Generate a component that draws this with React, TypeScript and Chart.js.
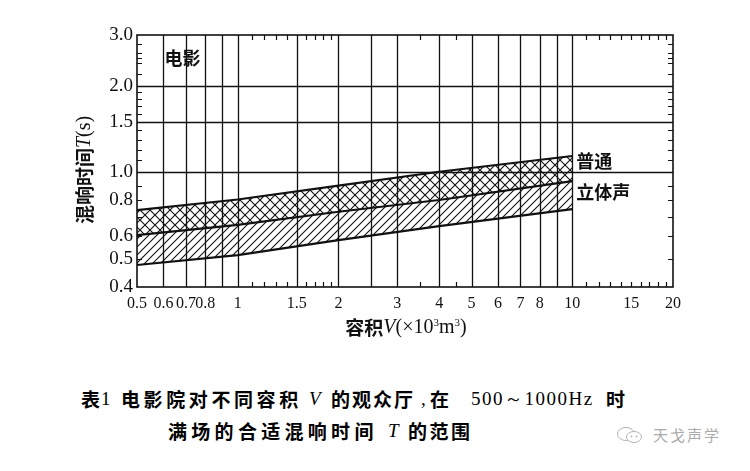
import React, { useEffect, useRef } from "react";
import { Chart, registerables } from "chart.js";

Chart.register(...registerables);

// ---- data ----
const volumes = [0.5, 1, 2, 4, 10];
const upperT = [0.74, 0.805, 0.9, 1.005, 1.14];
const middleT = [0.606, 0.657, 0.73, 0.802, 0.933];
const lowerT = [0.477, 0.516, 0.582, 0.651, 0.746];

const xTickValues = [0.5, 0.6, 0.7, 0.8, 1, 1.5, 2, 3, 4, 5, 6, 7, 8, 10, 15, 20];
const xTickLabels = ["0.5", "0.6", "0.7", "0.8", "1", "1.5", "2", "3", "4", "5", "6", "7", "8", "10", "15", "20"];
const yTickValues = [0.4, 0.5, 0.6, 0.8, 1.0, 1.5, 2.0, 3.0];
const yTickLabels = ["0.4", "0.5", "0.6", "0.8", "1.0", "1.5", "2.0", "3.0"];

const xGridValues = [0.6, 0.7, 0.8, 0.9, 1, 1.5, 2, 2.5, 3, 4, 5, 6, 7, 8, 9, 10];
const yGridValues = [1.0, 1.5, 2.0];
const xMinorTicks = [1.1, 1.2, 1.3, 1.4, 1.6, 1.7, 1.8, 1.9, 3.5, 4.5, 11, 12, 13, 14, 15, 16, 17, 18, 19];
const yMinorTicks = [0.5, 0.6, 0.7, 0.8, 0.9, 1.1, 1.2, 1.3, 1.4, 1.6, 1.7, 1.8, 1.9, 2.2, 2.4, 2.5, 2.6, 2.8];

const seriesLabels = ["普通", "立体声"];

function makeCross(): CanvasPattern | string {
  const c = document.createElement("canvas");
  c.width = 10;
  c.height = 10;
  const g = c.getContext("2d");
  if (!g) return "rgba(0,0,0,0.2)";
  g.strokeStyle = "#111";
  g.lineWidth = 1.1;
  g.beginPath();
  g.moveTo(-1, -1);
  g.lineTo(11, 11);
  g.moveTo(11, -1);
  g.lineTo(-1, 11);
  g.stroke();
  return g.createPattern(c, "repeat") || "rgba(0,0,0,0.2)";
}

function makeDiag(): CanvasPattern | string {
  const c = document.createElement("canvas");
  c.width = 8;
  c.height = 8;
  const g = c.getContext("2d");
  if (!g) return "rgba(0,0,0,0.2)";
  g.strokeStyle = "#111";
  g.lineWidth = 1.1;
  g.beginPath();
  g.moveTo(-1, 9);
  g.lineTo(9, -1);
  g.moveTo(-1, 1);
  g.lineTo(1, -1);
  g.moveTo(7, 9);
  g.lineTo(9, 7);
  g.stroke();
  return g.createPattern(c, "repeat") || "rgba(0,0,0,0.2)";
}

type Seg = { t: string; f: string; dy?: number };

function drawSegs(ctx: CanvasRenderingContext2D, segs: Seg[], cx: number, cy: number, rot: number) {
  ctx.save();
  ctx.translate(cx, cy);
  ctx.rotate(rot);
  ctx.textBaseline = "middle";
  ctx.textAlign = "left";
  let total = 0;
  for (const s of segs) {
    ctx.font = s.f;
    total += ctx.measureText(s.t).width;
  }
  let x = -total / 2;
  for (const s of segs) {
    ctx.font = s.f;
    ctx.fillText(s.t, x, s.dy || 0);
    x += ctx.measureText(s.t).width;
  }
  ctx.restore();
}

const framePlugin = {
  id: "frame",
  beforeDatasetsDraw(chart: any) {
    const { ctx, chartArea, scales } = chart;
    const { left, right, top, bottom } = chartArea;
    const xs = scales.x;
    const ys = scales.y;
    ctx.save();
    ctx.strokeStyle = "#111";
    ctx.lineWidth = 1.3;
    ctx.beginPath();
    for (const v of xGridValues) {
      const px = Math.round(xs.getPixelForValue(v)) + 0.5;
      ctx.moveTo(px, top);
      ctx.lineTo(px, bottom);
    }
    for (const v of yGridValues) {
      const py = Math.round(ys.getPixelForValue(v)) + 0.5;
      ctx.moveTo(left, py);
      ctx.lineTo(right, py);
    }
    ctx.stroke();
    ctx.restore();
  },
  afterDatasetsDraw(chart: any) {
    const { ctx, chartArea, scales } = chart;
    const { left, right, top, bottom } = chartArea;
    const xs = scales.x;
    const ys = scales.y;
    ctx.save();
    ctx.strokeStyle = "#111";
    ctx.lineWidth = 1.6;
    ctx.strokeRect(left, top, right - left, bottom - top);
    ctx.lineWidth = 1.2;
    ctx.beginPath();
    for (const v of yMinorTicks) {
      const py = Math.round(ys.getPixelForValue(v)) + 0.5;
      ctx.moveTo(left, py);
      ctx.lineTo(left + 5, py);
      ctx.moveTo(right, py);
      ctx.lineTo(right - 5, py);
    }
    for (const v of xMinorTicks) {
      const px = Math.round(xs.getPixelForValue(v)) + 0.5;
      ctx.moveTo(px, top);
      ctx.lineTo(px, top + 5);
      ctx.moveTo(px, bottom);
      ctx.lineTo(px, bottom - 5);
    }
    ctx.stroke();

    ctx.fillStyle = "#111";
    const cjk = 'bold 18px "Noto Sans CJK SC"';
    ctx.textBaseline = "middle";
    ctx.textAlign = "left";
    ctx.font = cjk;
    ctx.fillText("电影", xs.getPixelForValue(0.6) + 1, ys.getPixelForValue(2.5));
    const xEnd = xs.getPixelForValue(volumes[volumes.length - 1]);
    ctx.fillText(seriesLabels[0], xEnd + 4, ys.getPixelForValue(1.09));
    ctx.fillText(seriesLabels[1], xEnd + 4, ys.getPixelForValue(0.855));

    drawSegs(
      ctx,
      [
        { t: "混响时间", f: 'bold 19px "Noto Sans CJK SC"' },
        { t: "T", f: 'italic 20px "Liberation Serif"' },
        { t: "(s)", f: '20px "Liberation Serif"' },
      ],
      85,
      170,
      -Math.PI / 2
    );
    drawSegs(
      ctx,
      [
        { t: "容积", f: 'bold 19px "Noto Sans CJK SC"' },
        { t: "V", f: 'italic 20px "Liberation Serif"' },
        { t: "(×10", f: '20px "Liberation Serif"' },
        { t: "3", f: '11px "Liberation Serif"', dy: -5 },
        { t: "m", f: '20px "Liberation Serif"' },
        { t: "3", f: '11px "Liberation Serif"', dy: -5 },
        { t: ")", f: '20px "Liberation Serif"' },
      ],
      406,
      328,
      0
    );
    ctx.restore();
  },
};

const cjkBase: React.CSSProperties = {
  position: "absolute",
  fontFamily: '"Noto Sans CJK SC"',
  fontWeight: 700,
  fontSize: "19px",
  lineHeight: "20px",
  color: "#000",
  whiteSpace: "pre",
};
const latBase: React.CSSProperties = {
  position: "absolute",
  fontFamily: '"Liberation Serif"',
  fontSize: "19px",
  lineHeight: "20px",
  color: "#000",
  whiteSpace: "pre",
};

function T(props: { x: number; y: number; s: React.CSSProperties; ls?: number; italic?: boolean; children: string }) {
  return (
    <span
      style={{
        ...props.s,
        left: props.x,
        top: props.y,
        letterSpacing: (props.ls || 0) + "px",
        fontStyle: props.italic ? "italic" : "normal",
      }}
    >
      {props.children}
    </span>
  );
}

export default function App() {
  const ref = useRef<HTMLCanvasElement | null>(null);

  useEffect(() => {
    const canvas = ref.current;
    if (!canvas) return;
    const cross = makeCross();
    const diag = makeDiag();
    const mk = (arr: number[]) => volumes.map((v, i) => ({ x: v, y: arr[i] }));
    const chart = new Chart(canvas, {
      type: "line",
      data: {
        datasets: [
          {
            label: seriesLabels[0],
            data: mk(upperT),
            borderColor: "#111",
            borderWidth: 2.2,
            pointRadius: 0,
            fill: "+1",
            backgroundColor: cross as any,
            tension: 0,
          },
          {
            label: seriesLabels[1],
            data: mk(middleT),
            borderColor: "#111",
            borderWidth: 2.2,
            pointRadius: 0,
            fill: "+1",
            backgroundColor: diag as any,
            tension: 0,
          },
          {
            label: "lower",
            data: mk(lowerT),
            borderColor: "#111",
            borderWidth: 2.2,
            pointRadius: 0,
            fill: false,
            tension: 0,
          },
        ],
      },
      options: {
        animation: false,
        responsive: false,
        maintainAspectRatio: false,
        layout: { padding: { left: 0, top: 35, right: 77, bottom: 0 } },
        plugins: { legend: { display: false }, tooltip: { enabled: false } },
        scales: {
          x: {
            type: "logarithmic",
            min: 0.5,
            max: 20,
            grid: { display: false, drawTicks: false },
            border: { display: false },
            afterBuildTicks: (s: any) => {
              s.ticks = xTickValues.map((v) => ({ value: v }));
            },
            afterFit: (s: any) => {
              s.height = 63;
            },
            ticks: {
              autoSkip: false,
              maxRotation: 0,
              minRotation: 0,
              padding: 7,
              color: "#111",
              font: { family: '"Liberation Serif"', size: 16 },
              callback: (_v: any, i: number) => xTickLabels[i],
            },
          },
          y: {
            type: "logarithmic",
            min: 0.4,
            max: 3.0,
            grid: { display: false, drawTicks: false },
            border: { display: false },
            afterBuildTicks: (s: any) => {
              s.ticks = yTickValues.map((v) => ({ value: v }));
            },
            afterFit: (s: any) => {
              s.width = 137;
            },
            ticks: {
              autoSkip: false,
              padding: 4,
              color: "#111",
              font: { family: '"Liberation Serif"', size: 19 },
              callback: (_v: any, i: number) => yTickLabels[i],
            },
          },
        },
      } as any,
      plugins: [framePlugin as any],
    });
    return () => chart.destroy();
  }, []);

  const y1 = 389;
  const y2 = 421;
  return (
    <div style={{ position: "fixed", left: 0, top: 0, width: 750, height: 471, background: "#fff", overflow: "hidden" }}>
      <canvas ref={ref} width={750} height={350} style={{ position: "absolute", left: 0, top: 0, width: 750, height: 350 }} />
      {/* caption line 1 */}
      <T x={81} y={y1} s={cjkBase}>表</T>
      <T x={101} y={y1} s={latBase}>1</T>
      <T x={121} y={y1} s={cjkBase} ls={3.6}>电影院对不同容积</T>
      <T x={309} y={y1} s={latBase} italic>V</T>
      <T x={331} y={y1} s={cjkBase} ls={2}>的观众厅</T>
      <T x={421} y={y1} s={latBase}>,</T>
      <T x={430} y={y1} s={cjkBase}>在</T>
      <T x={471} y={y1} s={latBase} ls={1.5}>500～1000Hz</T>
      <T x={606} y={y1} s={cjkBase}>时</T>
      {/* caption line 2 */}
      <T x={168} y={y2} s={cjkBase} ls={4.3}>满场的合适混响时间</T>
      <T x={388} y={y2} s={latBase} italic>T</T>
      <T x={408} y={y2} s={cjkBase} ls={2.5}>的范围</T>
      <svg width="28" height="18" style={{ position: "absolute", left: 616, top: 426 }}>
        <ellipse cx="10" cy="8" rx="8.5" ry="6.5" fill="none" stroke="#b5b5b5" strokeWidth="1" />
        <ellipse cx="18" cy="11" rx="7.5" ry="5.5" fill="#fff" stroke="#b5b5b5" strokeWidth="1" />
        <circle cx="15.5" cy="10.5" r="0.9" fill="#b5b5b5" />
        <circle cx="20.5" cy="10.5" r="0.9" fill="#b5b5b5" />
      </svg>
      <div style={{ position: "absolute", left: 653, top: 425, lineHeight: "20px", fontSize: "15px", color: "#aaa", fontFamily: '"Noto Sans CJK SC"', letterSpacing: "2px", whiteSpace: "pre" }}>
        天戈声学
      </div>
    </div>
  );
}
